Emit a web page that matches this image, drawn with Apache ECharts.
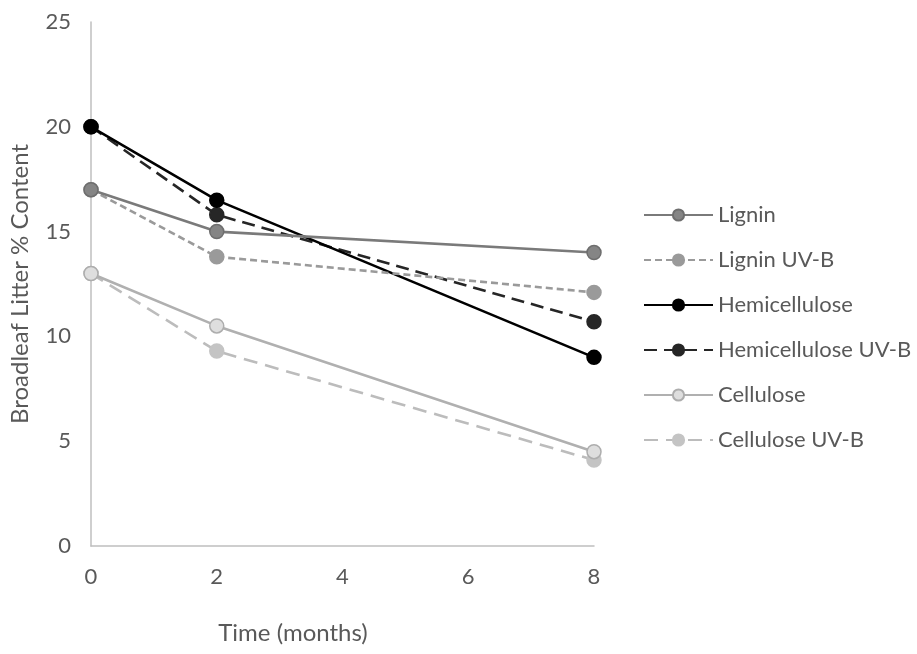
<!DOCTYPE html>
<html>
<head>
<meta charset="utf-8">
<script src="https://cdn.jsdelivr.net/npm/echarts@6/dist/echarts.min.js"></script>
<style>
  html, body { margin: 0; padding: 0; background: #fff; }
  #chart { width: 917px; height: 654px; }
</style>
</head>
<body>
<div id="chart"></div>
<script>
// Broadleaf litter composition over time (months 0, 2, 8)
const months = [0, 2, 8];
const xTicks = [0, 2, 4, 6, 8];
const yTicks = [0, 5, 10, 15, 20, 25];

const lignin = [17, 15, 14];
const ligninUVB = [17, 13.8, 12.1];
const hemicellulose = [20, 16.5, 9];
const hemicelluloseUVB = [20, 15.8, 10.7];
const cellulose = [13, 10.5, 4.5];
const celluloseUVB = [13, 9.3, 4.1];

const seriesNames = ['Lignin', 'Lignin UV-B', 'Hemicellulose', 'Hemicellulose UV-B', 'Cellulose', 'Cellulose UV-B'];
const seriesValues = [lignin, ligninUVB, hemicellulose, hemicelluloseUVB, cellulose, celluloseUVB];

// Line/marker styling per series
const styles = [
  { line: '#7a7a7a', fill: '#858585', border: '#6e6e6e', dash: 'solid' },
  { line: '#9a9a9a', fill: '#9a9a9a', border: '#9a9a9a', dash: [7, 4] },
  { line: '#000000', fill: '#000000', border: '#000000', dash: 'solid' },
  { line: '#262626', fill: '#262626', border: '#262626', dash: [13, 7] },
  { line: '#b0b0b0', fill: '#dedede', border: '#adadad', dash: 'solid' },
  { line: '#bcbcbc', fill: '#c4c4c4', border: '#c4c4c4', dash: [14, 8] }
];

const FONT = 'Lato';
const TEXT = '#595959';

const chart = echarts.init(document.getElementById('chart'), null, { renderer: 'canvas' });

chart.setOption({
  backgroundColor: '#ffffff',
  animation: false,
  textStyle: { fontFamily: FONT },
  grid: { left: 90, right: 323, top: 22, bottom: 108, containLabel: false },
  legend: {
    orient: 'vertical',
    left: 638,
    top: 199,
    itemWidth: 69,
    itemHeight: 14,
    itemGap: 23,
    textStyle: { color: TEXT, fontSize: 22, lineHeight: 22, fontFamily: FONT },
    data: seriesNames
  },
  xAxis: {
    type: 'value',
    min: xTicks[0],
    max: xTicks[xTicks.length - 1],
    interval: 2,
    axisLine: { show: true, onZero: false, lineStyle: { color: '#bfbfbf', width: 1.5 } },
    axisTick: { show: false },
    splitLine: { show: false },
    axisLabel: { color: TEXT, fontSize: 22, margin: 20, fontFamily: FONT }
  },
  yAxis: {
    type: 'value',
    min: yTicks[0],
    max: yTicks[yTicks.length - 1],
    interval: 5,
    name: 'Broadleaf Litter % Content',
    nameLocation: 'middle',
    nameGap: 59,
    nameTextStyle: { color: TEXT, fontSize: 24, fontFamily: FONT },
    axisLine: { show: true, lineStyle: { color: '#bfbfbf', width: 1.5 } },
    axisTick: { show: false },
    splitLine: { show: false },
    axisLabel: { color: TEXT, fontSize: 22, margin: 20, fontFamily: FONT }
  },
  graphic: [{
    type: 'text',
    x: 293,
    y: 633,
    style: {
      text: 'Time (months)',
      fill: TEXT,
      fontSize: 24,
      fontFamily: FONT,
      align: 'center',
      verticalAlign: 'middle'
    }
  }],
  series: seriesNames.map((name, i) => ({
    name: name,
    type: 'line',
    data: months.map((m, j) => [m, seriesValues[i][j]]),
    symbol: 'circle',
    symbolSize: 14,
    z: 10 - i,
    lineStyle: { color: styles[i].line, width: 2.6, type: styles[i].dash },
    itemStyle: { color: styles[i].fill, borderColor: styles[i].border, borderWidth: 1.5 }
  }))
});
</script>
</body>
</html>
